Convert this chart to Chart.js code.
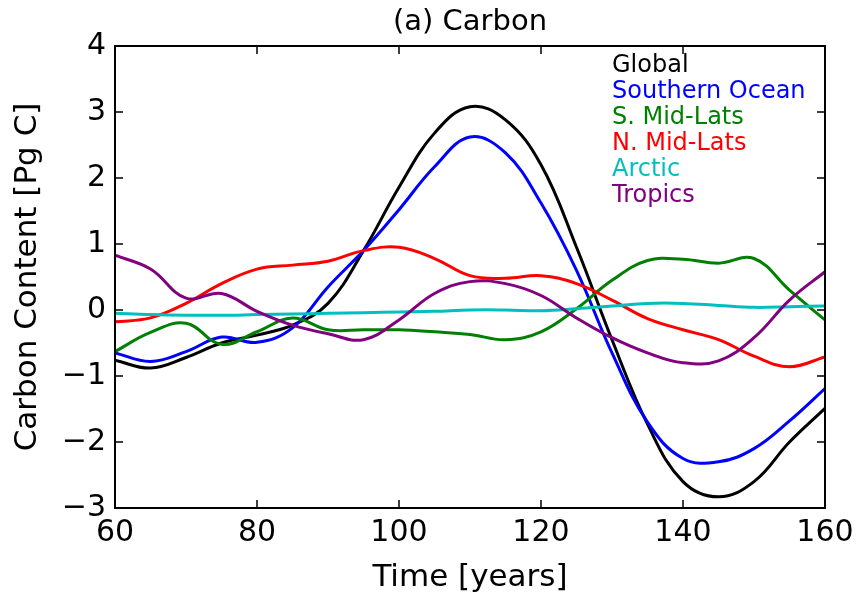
<!DOCTYPE html>
<html>
<head>
<meta charset="utf-8">
<script src="https://cdn.jsdelivr.net/npm/chart.js@4"></script>
<style>
  html, body { margin: 0; padding: 0; background: #fff; }
  #wrap { width: 857px; height: 602px; }
</style>
</head>
<body>
<div id="wrap"><canvas id="chart"></canvas></div>
<script>
// values
var years = [60, 65, 70, 75, 80, 85, 90, 95, 100, 105, 110, 115, 120, 125, 130, 135, 140, 145, 150, 155, 160];

var globalC   = [-0.76, -0.88, -0.72, -0.5, -0.38, -0.23, 0.1, 0.9, 1.86, 2.68, 3.08, 2.88, 2.2, 0.95, -0.45, -1.73, -2.6, -2.83, -2.6, -2.0, -1.49];
var southern  = [-0.65, -0.78, -0.63, -0.41, -0.49, -0.27, 0.35, 0.9, 1.52, 2.17, 2.62, 2.38, 1.62, 0.6, -0.65, -1.7, -2.25, -2.3, -2.1, -1.68, -1.19];
var sMidLats  = [-0.63, -0.34, -0.2, -0.52, -0.33, -0.12, -0.3, -0.3, -0.3, -0.33, -0.37, -0.45, -0.33, 0.02, 0.45, 0.75, 0.77, 0.71, 0.78, 0.3, -0.15];
var nMidLats  = [-0.18, -0.12, 0.1, 0.4, 0.62, 0.68, 0.74, 0.9, 0.95, 0.78, 0.52, 0.48, 0.52, 0.4, 0.15, -0.13, -0.3, -0.45, -0.7, -0.86, -0.71];
var arctic    = [-0.05, -0.07, -0.08, -0.08, -0.07, -0.06, -0.05, -0.04, -0.03, -0.02, 0, 0, -0.01, 0.02, 0.06, 0.1, 0.1, 0.07, 0.04, 0.05, 0.06];
var tropics   = [0.83, 0.62, 0.18, 0.25, -0.02, -0.23, -0.36, -0.45, -0.15, 0.25, 0.43, 0.4, 0.22, -0.12, -0.42, -0.65, -0.8, -0.77, -0.42, 0.15, 0.58];

var seriesNames  = ["Global", "Southern Ocean", "S. Mid-Lats", "N. Mid-Lats", "Arctic", "Tropics"];
var seriesColors = ["#000000", "#0000ff", "#008000", "#ff0000", "#00bfbf", "#800080"];
var seriesData   = [globalC, southern, sMidLats, nMidLats, arctic, tropics];

var xTicks = [60, 80, 100, 120, 140, 160];
var yTicks = [-3, -2, -1, 0, 1, 2, 3, 4];

var FONT = "'DejaVu Sans', sans-serif";

var toPoints = (vals) => vals.map((v, i) => ({ x: years[i], y: v }));

var datasets = seriesData.map((vals, i) => ({
  label: seriesNames[i],
  data: toPoints(vals),
  borderColor: seriesColors[i],
  backgroundColor: seriesColors[i],
  borderWidth: 3,
  pointRadius: 0,
  tension: 0.4,
  fill: false,
  order: seriesData.length - i   // last series on top, like matplotlib
}));

var minus = (v) => (v < 0 ? "\u2212" + Math.abs(v) : "" + v);

// frame, inward ticks, title and coloured text legend
var framePlugin = {
  id: 'frame',
  afterDatasetsDraw(chart) {
    var ctx = chart.ctx, a = chart.chartArea;
    var xs = chart.scales.x, ys = chart.scales.y;
    ctx.save();
    ctx.strokeStyle = '#000';
    ctx.lineWidth = 1.5;
    var len = 8;
    ctx.beginPath();
    xTicks.forEach(t => {
      var px = xs.getPixelForValue(t);
      ctx.moveTo(px, a.bottom); ctx.lineTo(px, a.bottom - len);
      ctx.moveTo(px, a.top); ctx.lineTo(px, a.top + len);
    });
    yTicks.forEach(t => {
      var py = ys.getPixelForValue(t);
      ctx.moveTo(a.left, py); ctx.lineTo(a.left + len, py);
      ctx.moveTo(a.right, py); ctx.lineTo(a.right - len, py);
    });
    ctx.stroke();
    ctx.lineWidth = 2;
    ctx.strokeRect(a.left, a.top, a.right - a.left, a.bottom - a.top);

    ctx.fillStyle = '#000';
    ctx.font = "29px " + FONT;
    ctx.textAlign = 'center';
    ctx.textBaseline = 'middle';
    ctx.fillText("(a) Carbon", (a.left + a.right) / 2, 22);

    ctx.font = "24px " + FONT;
    ctx.textAlign = 'left';
    seriesNames.forEach((name, i) => {
      ctx.fillStyle = seriesColors[i];
      ctx.fillText(name, 612, 66 + i * 26);
    });
    ctx.restore();
  }
};

new Chart(document.getElementById('chart'), {
  type: 'line',
  data: { datasets: datasets },
  options: {
    responsive: true,
    maintainAspectRatio: false,
    animation: false,
    layout: { padding: { top: 46, right: 32, left: 0, bottom: 0 } },
    plugins: {
      legend: { display: false },
      tooltip: { enabled: false },
      title: { display: false }
    },
    scales: {
      x: {
        type: 'linear',
        min: 60,
        max: 160,
        afterFit: (s) => { s.height = 94; s.paddingLeft = 0; s.paddingRight = 0; },
        afterBuildTicks: (s) => { s.ticks = xTicks.map(v => ({ value: v })); },
        grid: { display: false, drawTicks: false },
        border: { display: false },
        ticks: {
          color: '#000',
          padding: 7,
          font: { family: FONT, size: 30 },
          maxRotation: 0,
          callback: (v) => minus(v)
        },
        title: {
          display: true,
          text: 'Time [years]',
          color: '#000',
          font: { family: FONT, size: 31 },
          padding: { top: 0, bottom: 5 }
        }
      },
      y: {
        type: 'linear',
        min: -3,
        max: 4,
        afterFit: (s) => { s.width = 115; s.paddingTop = 0; s.paddingBottom = 0; },
        afterBuildTicks: (s) => { s.ticks = yTicks.map(v => ({ value: v })); },
        grid: { display: false, drawTicks: false },
        border: { display: false },
        ticks: {
          color: '#000',
          padding: 9,
          font: { family: FONT, size: 30 },
          callback: (v) => minus(v)
        },
        title: {
          display: true,
          text: 'Carbon Content [Pg C]',
          color: '#000',
          font: { family: FONT, size: 31 },
          padding: { top: 9, bottom: 0 }
        }
      }
    }
  },
  plugins: [framePlugin]
});
</script>
</body>
</html>
